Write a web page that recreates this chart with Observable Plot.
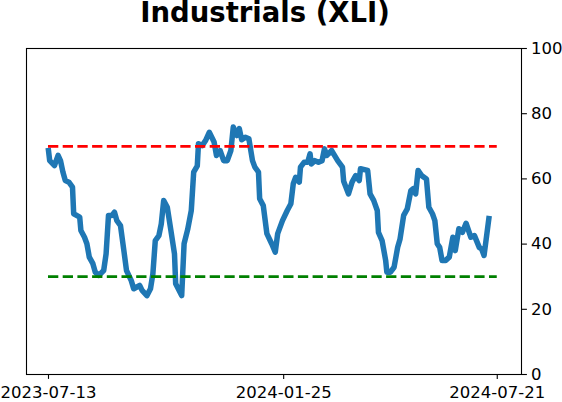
<!DOCTYPE html>
<html>
<head>
<meta charset="utf-8">
<script src="https://cdn.jsdelivr.net/npm/d3@7"></script>
<script src="https://cdn.jsdelivr.net/npm/@observablehq/plot@0.6"></script>
<style>
  html, body { margin: 0; padding: 0; background: #fff; }
  #wrap { position: relative; width: 562px; height: 402px; font-family: "DejaVu Sans", sans-serif; }
  #title { position: absolute; left: 0; top: -1.2px; width: 530px; text-align: center; font-size: 27.5px; line-height: 27.5px; font-weight: bold; color: #000; white-space: nowrap; }
  svg { display: block; }
</style>
</head>
<body>
<div id="wrap"><div id="title">Industrials (XLI)</div></div>
<script>
const title = "Industrials (XLI)";
const dates = [
  "2023-07-13","2023-07-14","2023-07-18","2023-07-21","2023-07-23","2023-07-25","2023-07-27","2023-07-30",
  "2023-08-02","2023-08-03","2023-08-08","2023-08-09","2023-08-12","2023-08-14","2023-08-16","2023-08-19",
  "2023-08-21","2023-08-24","2023-08-28","2023-08-30","2023-09-01","2023-09-04","2023-09-06","2023-09-08",
  "2023-09-11","2023-09-14","2023-09-16","2023-09-20","2023-09-22","2023-09-27","2023-09-29","2023-10-03",
  "2023-10-06","2023-10-08","2023-10-10","2023-10-13","2023-10-15","2023-10-17","2023-10-20","2023-10-23",
  "2023-10-26","2023-10-27","2023-11-01","2023-11-03","2023-11-06","2023-11-09","2023-11-11","2023-11-14",
  "2023-11-15","2023-11-18","2023-11-21","2023-11-24","2023-11-28","2023-11-30","2023-12-03","2023-12-06",
  "2023-12-09","2023-12-12","2023-12-14","2023-12-17","2023-12-19","2023-12-21","2023-12-24","2023-12-27",
  "2023-12-30","2024-01-01","2024-01-04","2024-01-05","2024-01-08","2024-01-11","2024-01-15","2024-01-18",
  "2024-01-20","2024-01-24","2024-01-28","2024-01-31","2024-02-02","2024-02-04","2024-02-07","2024-02-08",
  "2024-02-11","2024-02-14","2024-02-16","2024-02-17","2024-02-20","2024-02-23","2024-02-26","2024-02-28",
  "2024-03-01","2024-03-05","2024-03-10","2024-03-14","2024-03-15","2024-03-19","2024-03-22","2024-03-25",
  "2024-03-28","2024-03-29","2024-04-04","2024-04-06","2024-04-09","2024-04-12","2024-04-13","2024-04-16",
  "2024-04-19","2024-04-20","2024-04-23","2024-04-26","2024-04-29","2024-05-01","2024-05-04","2024-05-07",
  "2024-05-10","2024-05-12","2024-05-14","2024-05-16","2024-05-19","2024-05-23","2024-05-25","2024-05-28",
  "2024-05-30","2024-06-01","2024-06-03","2024-06-05","2024-06-08","2024-06-11","2024-06-14","2024-06-16",
  "2024-06-19","2024-06-22","2024-06-25","2024-06-29","2024-07-02","2024-07-06","2024-07-08","2024-07-10",
  "2024-07-14"
];
const values = [
  68.7,65.6,64.1,67.2,65.6,62.1,59.5,59.0,
  57.5,49.3,48.3,44.2,42.1,40.1,36.0,34.0,
  31.4,30.4,31.9,37.0,48.8,48.8,49.8,47.2,
  45.7,37.5,31.9,28.8,26.3,27.3,25.8,24.2,
  26.3,30.9,41.1,42.6,46.2,53.4,51.3,44.2,
  37.0,27.8,24.2,40.1,44.5,50.3,62.1,64.0,
  70.8,70.2,71.8,74.3,71.3,67.2,68.7,65.6,
  65.6,68.7,75.9,73.3,75.4,72.0,72.8,72.3,
  65.6,63.6,62.1,53.9,51.8,43.2,40.1,37.5,
  43.2,47.2,50.3,52.4,58.5,60.5,59.0,63.6,
  65.1,65.1,67.7,64.6,65.6,65.1,65.6,69.2,
  67.2,68.7,65.6,63.6,59.3,55.4,59.0,61.0,
  59.5,63.1,62.6,55.4,53.4,50.3,43.6,41.1,
  35.0,31.4,31.4,32.9,39.0,41.6,48.8,50.8,
  56.4,57.0,55.4,62.6,61.0,60.0,51.3,49.3,
  47.2,40.1,39.0,35.0,35.0,36.0,42.1,38.0,
  44.7,43.6,46.4,42.1,42.6,39.0,38.5,36.5,
  47.8
];
const xTicks = ["2023-07-13","2024-01-25","2024-07-21"];
const yTicks = [0,20,40,60,80,100];
const thresholds = [70, 30];
const thresholdColors = ["#ff0000", "#008000"];
const thresholdSpan = ["2023-07-13","2024-07-21"];
const xDomain = ["2023-06-24T16:00Z","2024-08-10T05:00Z"];

const data = dates.map((d, i) => ({date: new Date(d), value: values[i]}));
const rules = thresholds.map((t, i) => ({y: t, color: thresholdColors[i], x1: new Date(thresholdSpan[0]), x2: new Date(thresholdSpan[1])}));

const chart = Plot.plot({
  width: 562,
  height: 402,
  marginTop: 48,
  marginBottom: 28,
  marginLeft: 26,
  marginRight: 41,
  style: {fontFamily: "DejaVu Sans, sans-serif", fontSize: "16.5px", color: "#000", background: "#fff", overflow: "visible"},
  x: {type: "utc", domain: xDomain.map(d => new Date(d))},
  y: {domain: [0, 100]},
  marks: [
    Plot.lineY(data, {x: "date", y: "value", stroke: "#1f77b4", strokeWidth: 5.5, strokeLinejoin: "round", strokeLinecap: "square"}),
    Plot.ruleY(rules, {y: "y", x1: "x1", x2: "x2", stroke: "color", strokeWidth: 2.8, strokeDasharray: "10.3,4.4"}),
    Plot.frame({stroke: "#000", strokeWidth: 1.1}),
    Plot.axisY({anchor: "right", ticks: yTicks, tickSize: 4.9, tickPadding: 4.5, tickFormat: d => String(d), fontSize: 16.5, label: null, strokeWidth: 1.1}),
    Plot.axisX({anchor: "bottom", ticks: xTicks.map(d => new Date(d)), tickSize: 4.9, tickPadding: 6.5, tickFormat: d3.utcFormat("%Y-%m-%d"), fontSize: 16.5, label: null, strokeWidth: 1.1})
  ]
});
document.getElementById("wrap").appendChild(chart);
</script>
</body>
</html>
